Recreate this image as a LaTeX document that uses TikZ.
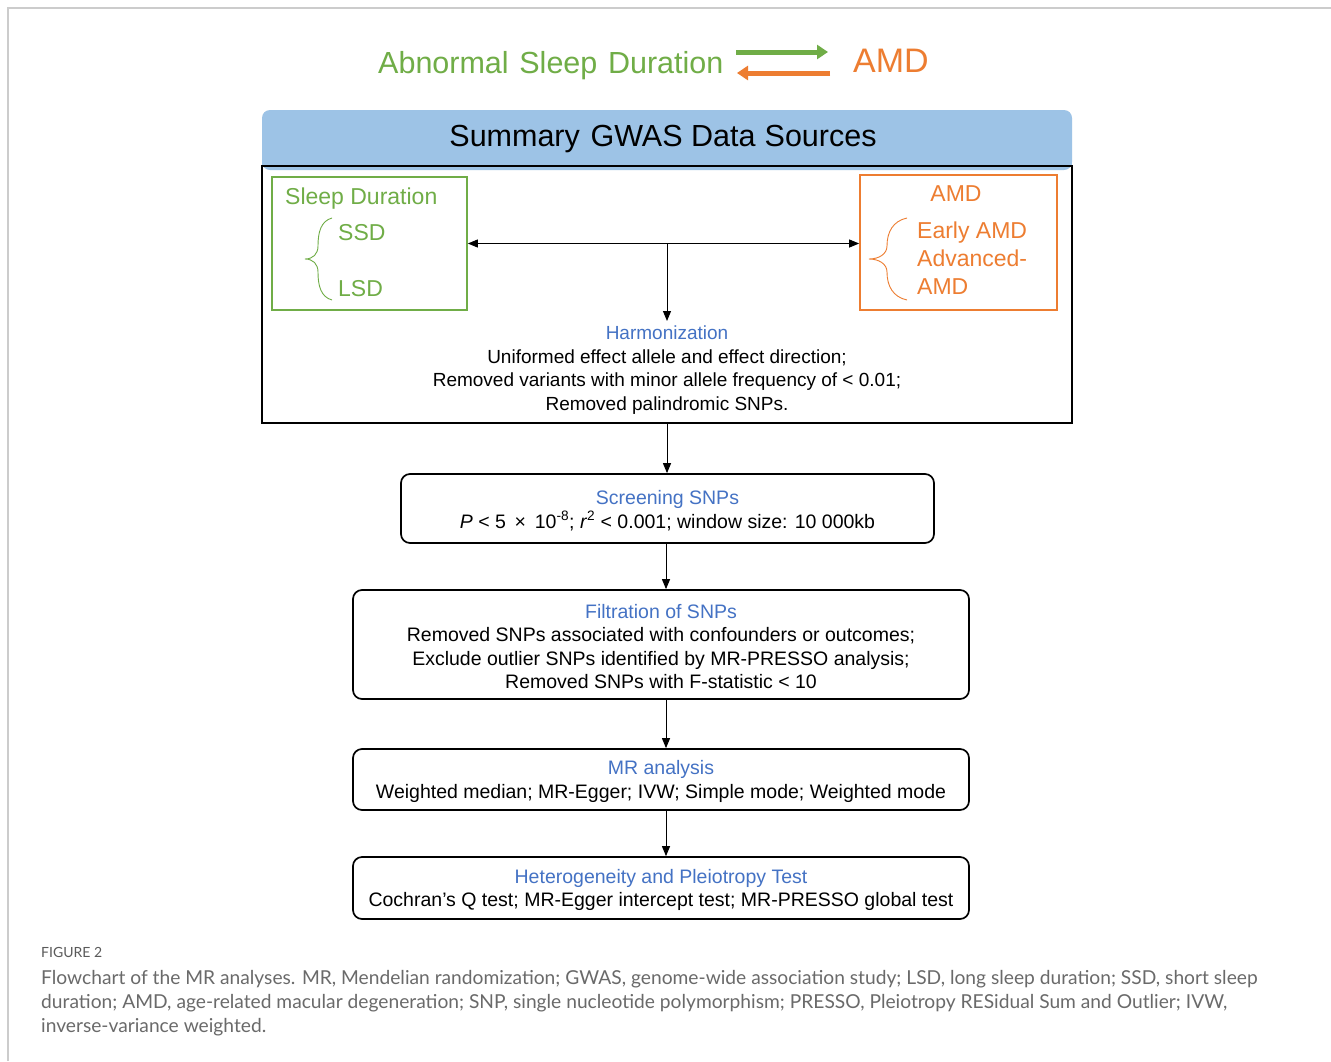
\documentclass[tikz,border=0pt]{standalone}
\usepackage{fontspec}
\setmainfont{Liberation Sans}
\newfontfamily\capfont{Lato}
\usetikzlibrary{arrows.meta}
\definecolor{cgreen}{HTML}{70AD47}
\definecolor{corange}{HTML}{ED7D31}
\definecolor{cblue}{HTML}{4472C4}
\definecolor{chead}{HTML}{9DC3E6}
\definecolor{cframe}{HTML}{CCCCCC}
\definecolor{ccap}{HTML}{6A6A6A}
\newcommand\myfs[2]{\fontsize{#1}{#2}\selectfont}
\tikzset{
  flowbox/.style={draw, line width=1.7pt, rounded corners=9pt, inner sep=0pt},
  flowtext/.style={align=center, inner sep=0pt, font=\myfs{19.5}{23.6}, yshift=-2pt},
  conn/.style={-{Triangle[length=10pt,width=8pt]}, line width=1pt},
  bigarrow/.style={line width=5pt, -{Triangle[length=11pt,width=14pt]}},
  capline/.style={anchor=base west, inner sep=0pt, text=ccap, font=\capfont\myfs{19.2}{22}},
}
\begin{document}
\begin{tikzpicture}[x=1pt,y=-1pt]
\useasboundingbox[fill=white] (0,0) rectangle (1331,1061);
% frame
\draw[cframe, line width=2pt] (8,1061) -- (8,8) -- (1331,8);

% title
\node[anchor=base west, inner sep=0pt, text=cgreen, font=\myfs{30.5}{36}] (ttl) at (378,73) {Abnormal\hspace{0.35em}Sleep\hspace{0.35em}Duration};
\node[anchor=base west, inner sep=0pt, text=corange, font=\myfs{34}{40}] (tamd) at (853,72) {AMD};
\coordinate (ga) at (736,52);
\coordinate (gb) at (828,52);
\coordinate (oa) at (830,73);
\coordinate (ob) at (737,73);
\draw[bigarrow, cgreen] (ga) -- (gb);
\draw[bigarrow, corange] (oa) -- (ob);

% header
\fill[chead, rounded corners=8pt] (262,110) rectangle (1072,170);
\fill[chead] (262,140) rectangle (1072,166);
\node[inner sep=0pt, font=\myfs{30.5}{36}] (header) at (663,139) {Summary\hspace{0.35em}GWAS Data\hspace{0.3em}Sources};

% main box
\node[draw, line width=1.8pt, minimum width=810pt, minimum height=257pt, inner sep=0pt] (mainbox) at (667,294.5) {};

% sleep box
\node[draw=cgreen, line width=1.7pt, minimum width=195pt, minimum height=133pt, inner sep=0pt] (sleepbox) at (369.5,243.5) {};
\node[anchor=base west, inner sep=0pt, text=cgreen, font=\myfs{23}{28}] (sd) at (285,204) {Sleep Duration};
\node[anchor=base west, inner sep=0pt, text=cgreen, font=\myfs{23}{28}] (ssd) at (338,240) {SSD};
\node[anchor=base west, inner sep=0pt, text=cgreen, font=\myfs{23}{28}] (lsd) at (338,296) {LSD};
\draw[cgreen, line width=0.9pt] (332,218) .. controls (321,221) and (318,232) .. (318,246)
  .. controls (318,254) and (313,259) .. (305,259)
  .. controls (313,259) and (318,264) .. (318,272)
  .. controls (318,286) and (321,297) .. (332,300);

% AMD box
\node[draw=corange, line width=1.7pt, minimum width=197pt, minimum height=135pt, inner sep=0pt] (amdbox) at (958.5,242.5) {};
\node[anchor=base, inner sep=0pt, text=corange, font=\myfs{23}{28}] (amdh) at (956,201) {AMD};
\node[anchor=base west, inner sep=0pt, text=corange, font=\myfs{23}{28}] (early) at (917,238) {Early AMD};
\node[anchor=base west, inner sep=0pt, text=corange, font=\myfs{23}{28}] (adv) at (917,266) {Advanced-};
\node[anchor=base west, inner sep=0pt, text=corange, font=\myfs{23}{28}] (adv2) at (917,294) {AMD};
\draw[corange, line width=0.9pt] (907,218) .. controls (893,221) and (887,232) .. (887,246)
  .. controls (887,254) and (879,259) .. (869,259)
  .. controls (879,259) and (887,264) .. (887,272)
  .. controls (887,286) and (893,297) .. (907,300);

% harmonization
\node[align=center, inner sep=0pt, font=\myfs{19}{23.7}] (harmon) at (667,370)
  {{\color{cblue}Harmonization}\\Uniformed effect allele and effect direction;\\Removed variants with minor allele frequency of < 0.01;\\Removed palindromic SNPs.};
\coordinate (junc) at (667,243.5);
\coordinate (harmtop) at (667,321);
\draw[{Triangle[length=10pt,width=8pt]}-{Triangle[length=10pt,width=8pt]}, line width=1pt] (sleepbox.east) -- (sleepbox.east -| amdbox.west);
\draw[conn] (junc) -- (harmtop);

% flow boxes
\node[flowbox, minimum width=533pt, minimum height=69pt] (screen) at (667.5,508.5) {};
\node[flowtext] (screentxt) at (screen.center)
  {{\color{cblue}Screening SNPs}\\\textit{P} < 5\hspace{0.45em}×\hspace{0.45em}10\textsuperscript{-8}; \textit{r}\textsuperscript{2} < 0.001; window size: 10 000kb};
\node[flowbox, minimum width=616pt, minimum height=109pt] (filt) at (661,644.5) {};
\node[flowtext] (filttxt) at (filt.center)
  {{\color{cblue}Filtration of SNPs}\\Removed SNPs associated with confounders or outcomes;\\Exclude outlier SNPs identified by MR-PRESSO analysis;\\Removed SNPs with F-statistic < 10};
\node[flowbox, minimum width=616pt, minimum height=61pt] (mr) at (661,779.5) {};
\node[flowtext] (mrtxt) at (mr.center)
  {{\color{cblue}MR analysis}\\Weighted median; MR-Egger; IVW; Simple mode; Weighted mode};
\node[flowbox, minimum width=616pt, minimum height=62pt] (het) at (661,888) {};
\node[flowtext] (hettxt) at (het.center)
  {{\color{cblue}Heterogeneity and Pleiotropy Test}\\Cochran’s Q test; MR-Egger intercept test; MR-PRESSO global test};

\draw[conn] (mainbox.south) -- (screen.north -| mainbox.south);
\draw[conn] (screen.south -| 666,0) -- (filt.north -| 666,0);
\draw[conn] (filt.south -| 666,0) -- (mr.north -| 666,0);
\draw[conn] (mr.south -| 666,0) -- (het.north -| 666,0);

% caption
\node[anchor=base west, inner sep=0pt, text=ccap!85!black, font=\capfont\myfs{14}{16}] (figlab) at (41,957) {FIGURE 2};
\node[capline] (cap1) at (41,984) {Flowchart of the MR analyses. MR, Mendelian randomization; GWAS, genome-wide association study; LSD, long sleep duration; SSD, short sleep};
\node[capline] (cap2) at (41,1008) {duration; AMD, age-related macular degeneration; SNP, single nucleotide polymorphism; PRESSO, Pleiotropy RESidual Sum and Outlier; IVW,};
\node[capline] (cap3) at (41,1032) {inverse-variance weighted.};
\end{tikzpicture}
\end{document}
